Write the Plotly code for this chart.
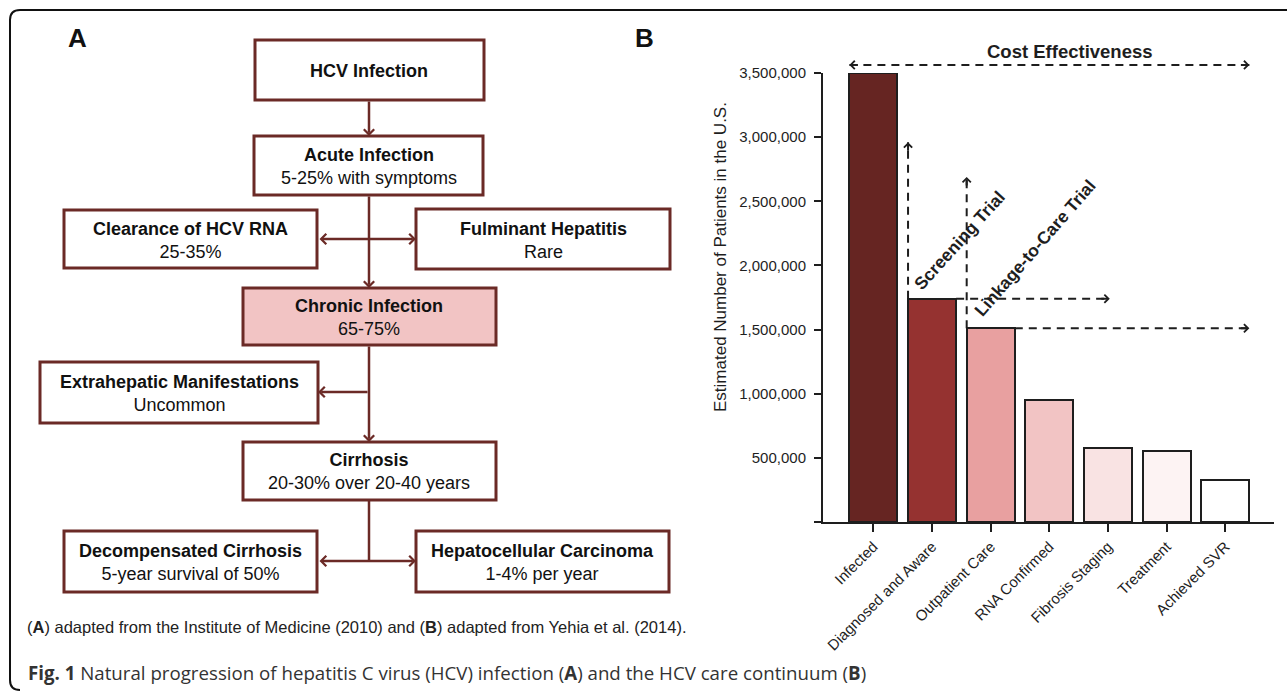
import plotly.graph_objects as go

# ---- data -------------------------------------------------------------
stages = ["Infected", "Diagnosed and Aware", "Outpatient Care", "RNA Confirmed",
          "Fibrosis Staging", "Treatment", "Achieved SVR"]
patients = [3500000, 1740000, 1510000, 950000, 580000, 555000, 325000]
bar_colors = ["#662522", "#953230", "#e8a0a0", "#f2c4c4", "#f9e3e3", "#fdf3f3", "#ffffff"]
y_tick_values = [0, 500000, 1000000, 1500000, 2000000, 2500000, 3000000, 3500000]

box_titles = ["HCV Infection", "Acute Infection", "Clearance of HCV RNA", "Fulminant Hepatitis",
              "Chronic Infection", "Extrahepatic Manifestations", "Cirrhosis",
              "Decompensated Cirrhosis", "Hepatocellular Carcinoma"]
box_notes = ["", "5-25% with symptoms", "25-35%", "Rare", "65-75%", "Uncommon",
             "20-30% over 20-40 years", "5-year survival of 50%", "1-4% per year"]

# ---- layout helpers (pixel -> paper) -----------------------------------
W, H = 1287, 691
def px(x):
    return x / W
def py(y):
    return 1 - y / H

FONT = "Arial, Liberation Sans, sans-serif"
BROWN = "#6b2a26"
INK = "#1e1e1e"

# flowchart boxes: left, top, right, bottom in pixels
box_px = [(255, 40, 484, 100), (254, 136, 483, 195), (64, 210, 317, 268), (416, 209, 670, 269),
          (243, 288, 496, 345), (40, 362, 318, 423), (243, 442, 496, 500),
          (64, 531, 317, 592), (416, 531, 669, 592)]
box_fill = ["white"] * len(box_px)
box_fill[4] = "#f2c4c4"

fig = go.Figure()

# ---- panel B bars --------------------------------------------------------
bar_w = 0.82
fig.add_trace(go.Bar(
    x=list(range(len(stages))), y=patients, width=bar_w,
    marker=dict(color=bar_colors, line=dict(color=INK, width=2)),
    hoverinfo="skip", showlegend=False,
))

shapes = []
annotations = []

def label(x, y, text, size, angle=0, anchor="center", family=FONT, color="#111"):
    annotations.append(dict(x=px(x), y=py(y), xref="paper", yref="paper", text=text,
                            showarrow=False, textangle=angle, xanchor=anchor, yanchor="middle",
                            font=dict(family=family, size=size, color=color)))

def dashed(x0, y0, x1, y1, yref="y"):
    shapes.append(dict(type="line", xref="x", yref=yref, x0=x0, y0=y0, x1=x1, y1=y1,
                       line=dict(color=INK, width=2, dash="8px,6px"), layer="above"))

def head_b(x, y, ax, ay, yref="y"):
    annotations.append(dict(x=x, y=y, xref="x", yref=yref, ax=ax, ay=ay, text="",
                            showarrow=True, arrowhead=4, arrowsize=0.8, arrowwidth=2,
                            arrowcolor=INK))

half = bar_w / 2
# cost effectiveness arrow above the axes
ce_y = 1.018
dashed(0 - half, ce_y, 6 + half, ce_y, yref="y domain")
head_b(6 + half, ce_y, -10, 0, yref="y domain")
head_b(0 - half, ce_y, 10, 0, yref="y domain")
# screening trial
dashed(1 - half, patients[1], 1 - half, 2960000)
head_b(1 - half, 2960000, 0, 10)
dashed(1 + half, patients[1], 4.03, patients[1])
head_b(4.03, patients[1], -10, 0)
# linkage to care trial
dashed(2 - half, patients[2], 2 - half, 2690000)
head_b(2 - half, 2690000, 0, 10)
dashed(2 + half, patients[2], 6 + half, patients[2])
head_b(6 + half, patients[2], -10, 0)

label(1070, 52, "<b>Cost Effectiveness</b>", 18.5, color=INK)
label(959, 241, "<b>Screening Trial</b>", 17.5, angle=-48, color=INK)
label(1035, 248, "<b>Linkage-to-Care Trial</b>", 17.5, angle=-49, color=INK)
label(720, 257, "Estimated Number of Patients in the U.S.", 17, angle=-90, color=INK)
label(77, 38, "<b>A</b>", 26)
label(644, 38, "<b>B</b>", 26)

# ---- panel A flowchart ---------------------------------------------------
for (l, t, r, b), fill, title, note in zip(box_px, box_fill, box_titles, box_notes):
    shapes.append(dict(type="rect", xref="paper", yref="paper", x0=px(l), y0=py(b), x1=px(r), y1=py(t),
                       line=dict(color=BROWN, width=3), fillcolor=fill, layer="below"))
    txt = f"<b>{title}</b>" if not note else f"<b>{title}</b><br>{note}"
    label((l + r) / 2, (t + b) / 2 + 1, txt, 18)

def arrow_a(tx, ty, ax, ay, both=False):
    annotations.append(dict(x=px(tx), y=py(ty), xref="paper", yref="paper", ax=ax, ay=ay, text="",
                            showarrow=True, arrowhead=4, arrowsize=0.8, arrowwidth=2.5,
                            arrowcolor=BROWN, arrowside="end+start" if both else "end",
                            startarrowhead=4, startarrowsize=0.8))

cx = 369
arrow_a(cx, 136, 0, -36)
arrow_a(cx, 288, 0, -93)
arrow_a(416, 239, -98, 0, both=True)
arrow_a(cx, 442, 0, -97)
arrow_a(318, 392, 51, 0)
shapes.append(dict(type="line", xref="paper", yref="paper", x0=px(cx), y0=py(500), x1=px(cx), y1=py(561),
                   line=dict(color=BROWN, width=2.5)))
arrow_a(416, 561, -98, 0, both=True)

# ---- captions and frame --------------------------------------------------
label(25, 627, "(<b>A</b>) adapted from the Institute of Medicine (2010) and (<b>B</b>) adapted from Yehia et al. (2014).",
      16.5, anchor="left", color="#222")
label(26, 672, "<b>Fig. 1</b> Natural progression of hepatitis C virus (HCV) infection (<b>A</b>) and the HCV care continuum (<b>B</b>)",
      18.7, anchor="left", family="Open Sans, Noto Sans, sans-serif", color="#333")

frame = (f"M{px(1300)},{py(10)} L{px(20)},{py(10)} Q{px(10)},{py(10)} {px(10)},{py(20)} "
         f"L{px(10)},{py(680)} Q{px(10)},{py(690)} {px(20)},{py(690)}")
shapes.append(dict(type="path", xref="paper", yref="paper", path=frame,
                   line=dict(color="#111", width=2)))

fig.update_layout(
    width=W, height=H, autosize=False,
    margin=dict(l=0, r=0, t=0, b=0, autoexpand=False),
    paper_bgcolor="white", plot_bgcolor="rgba(0,0,0,0)",
    showlegend=False, bargap=0,
    shapes=shapes, annotations=annotations,
    xaxis=dict(domain=[px(823), px(1274)], range=[-0.86, 6.83], automargin=False,
               tickvals=list(range(len(stages))), ticktext=stages, tickangle=-45,
               ticks="outside", ticklen=8, tickwidth=2, tickcolor=INK,
               showline=True, linewidth=2, linecolor=INK, showgrid=False, zeroline=False,
               tickfont=dict(family=FONT, size=15, color=INK), fixedrange=True),
    yaxis=dict(domain=[py(522), py(73)], range=[0, 3500000], automargin=False,
               tickvals=y_tick_values, ticktext=[f"{v:,}" if v else "" for v in y_tick_values],
               ticks="outside", ticklen=7, tickwidth=2, tickcolor=INK, ticklabelstandoff=5,
               showline=True, linewidth=2, linecolor=INK, showgrid=False, zeroline=False,
               tickfont=dict(family=FONT, size=15, color=INK), fixedrange=True),
)

fig.write_html("out.html", config={"displayModeBar": False},
               post_script="document.body.style.margin='0px';")
